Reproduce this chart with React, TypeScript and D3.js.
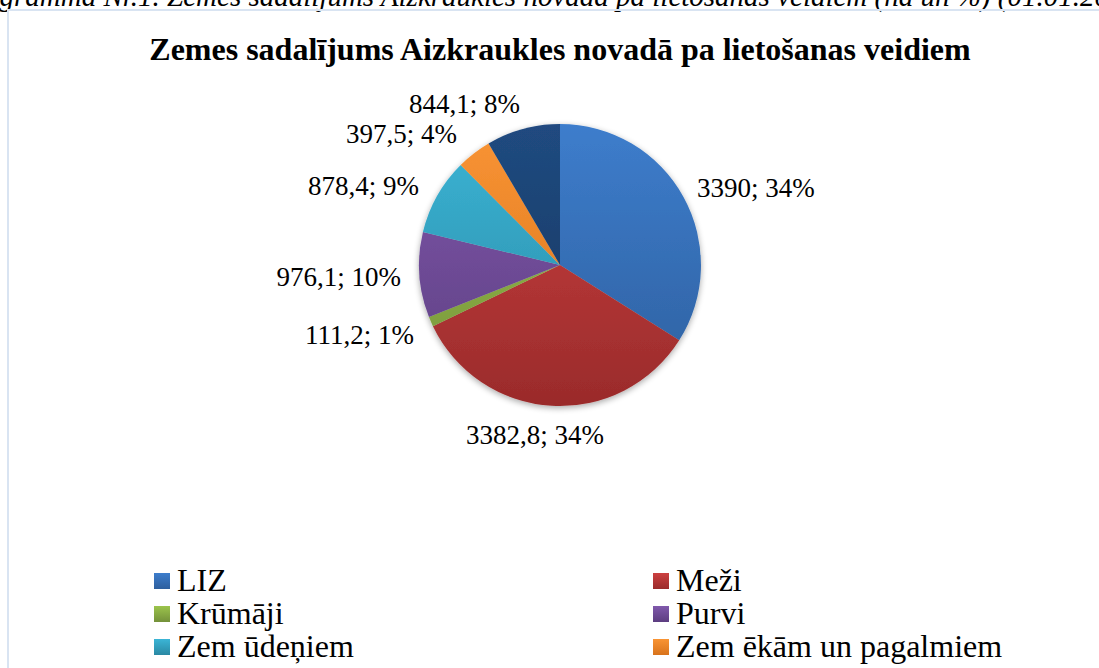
import React from "react";
import * as d3 from "d3";

const categories = ["LIZ", "Meži", "Krūmāji", "Purvi", "Zem ūdeņiem", "Zem ēkām un pagalmiem", "Pārējās zemes"];
const values = [3390, 3382.8, 111.2, 976.1, 878.4, 397.5, 844.1];
const valueLabels = ["3390", "3382,8", "111,2", "976,1", "878,4", "397,5", "844,1"];
const percentLabels = ["34%", "34%", "1%", "10%", "9%", "4%", "8%"];
const colorsTop = ["#3d7dcc", "#cc4040", "#9cc44c", "#8059ac", "#3bb5d6", "#f99434", "#204a80"];
const colorsBottom = ["#2e5f9e", "#9a2b2b", "#74913a", "#5c3d80", "#2a88a3", "#d8731c", "#17375e"];

const title = "Zemes sadalījums Aizkraukles novadā pa lietošanas veidiem";
const caption = "Diagramma Nr.1. Zemes sadalījums Aizkraukles novadā pa lietošanas veidiem (ha un %) (01.01.2013.)";

export default function App() {
  const W = 1099, H = 668;
  const cx = 560, cy = 265, r = 141;
  const pie = d3.pie<number>().sort(null).value((d) => d);
  const arcs = pie(values);
  const arc = d3.arc<d3.PieArcDatum<number>>().innerRadius(0).outerRadius(r);

  const labelPos: { x: number; y: number; anchor: string }[] = [
    { x: 697, y: 197, anchor: "start" },
    { x: 535, y: 444, anchor: "middle" },
    { x: 414, y: 344, anchor: "end" },
    { x: 401, y: 286, anchor: "end" },
    { x: 419, y: 195, anchor: "end" },
    { x: 457, y: 143, anchor: "end" },
    { x: 409, y: 113, anchor: "start" },
  ];

  const legendX = [154, 653];
  const legendY0 = 573;
  const legendDy = 33;

  return (
    <svg width={W} height={H} style={{ position: "absolute", left: 0, top: 0, background: "#fff" }}
      fontFamily="'Liberation Serif', 'Times New Roman', serif">
      <defs>
        {categories.map((c, i) => (
          <linearGradient key={c} id={`g${i}`} x1="0" y1="0" x2="0" y2="1">
            <stop offset="0%" stopColor={colorsTop[i]} />
            <stop offset="100%" stopColor={colorsBottom[i]} />
          </linearGradient>
        ))}
        {categories.map((c, i) => (
          <linearGradient key={c + "p"} id={`p${i}`} gradientUnits="userSpaceOnUse" x1="0" y1={-r} x2="0" y2={r}>
            <stop offset="0%" stopColor={colorsTop[i]} />
            <stop offset="100%" stopColor={colorsBottom[i]} />
          </linearGradient>
        ))}
        <filter id="sh" x="-20%" y="-20%" width="140%" height="140%">
          <feGaussianBlur in="SourceAlpha" stdDeviation="3" />
          <feOffset dx="0" dy="2" result="b" />
          <feComponentTransfer><feFuncA type="linear" slope="0.35" /></feComponentTransfer>
          <feMerge><feMergeNode /><feMergeNode in="SourceGraphic" /></feMerge>
        </filter>
      </defs>
      <text x={-44} y={6} fontSize={29} fontStyle="italic">{caption}</text>
      <rect x={8} y={10} width={1200} height={700} fill="none" stroke="#d9e4f2" strokeWidth={2} />
      <text x={cx} y={60} textAnchor="middle" fontSize={32} fontWeight="bold">{title}</text>
      <g transform={`translate(${cx},${cy})`} filter="url(#sh)">
        {arcs.map((a, i) => (
          <path key={i} d={arc(a) || ""} fill={`url(#p${i})`} />
        ))}
      </g>
      {arcs.map((a, i) => (
        <text key={i} x={labelPos[i].x} y={labelPos[i].y} textAnchor={labelPos[i].anchor} fontSize={27}>
          {`${valueLabels[i]}; ${percentLabels[i]}`}
        </text>
      ))}
      {categories.map((c, i) => {
        const col = i % 2, row = Math.floor(i / 2);
        const y = legendY0 + row * legendDy;
        return (
          <g key={c}>
            <rect x={legendX[col]} y={y} width={16} height={16} fill={`url(#g${i})`} />
            <text x={legendX[col] + 23} y={y + 18} fontSize={32}>{c}</text>
          </g>
        );
      })}
    </svg>
  );
}
